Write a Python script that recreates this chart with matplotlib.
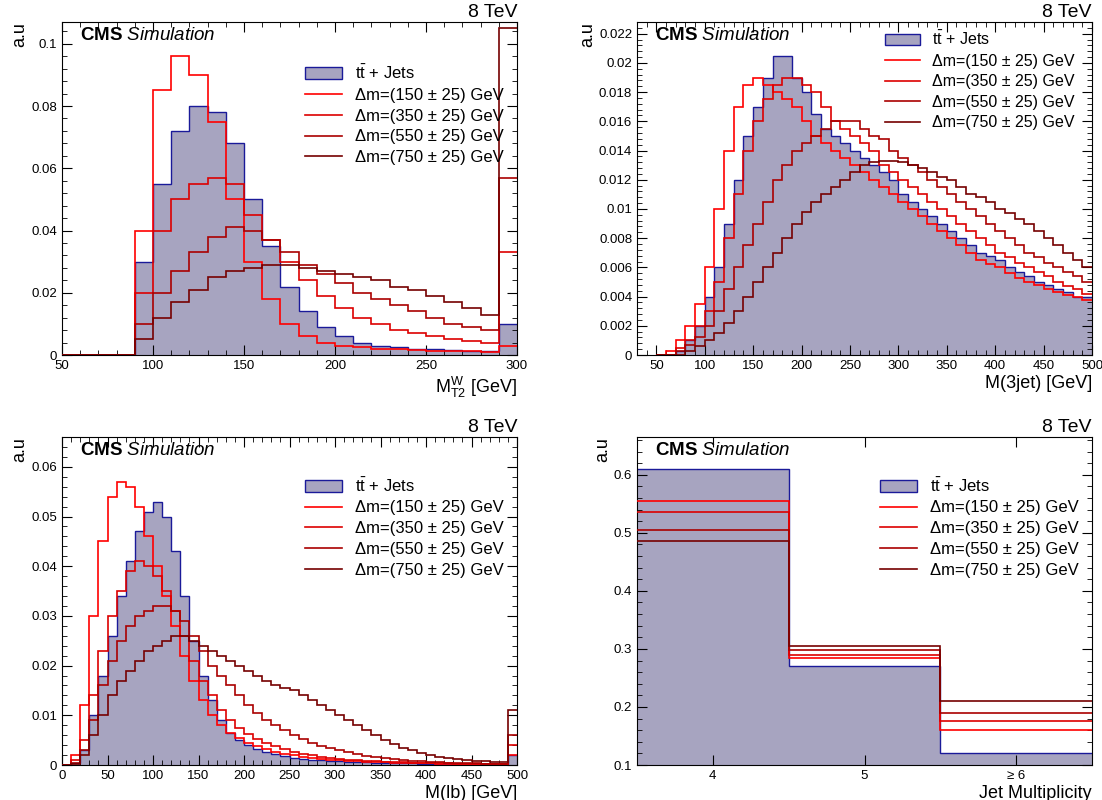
import numpy as np
import matplotlib.pyplot as plt
import matplotlib.patches as mpatches
from matplotlib.lines import Line2D
from matplotlib.ticker import MultipleLocator, AutoMinorLocator, FuncFormatter

plt.rcParams['font.family'] = ['Liberation Sans', 'DejaVu Sans']
plt.rcParams['mathtext.fontset'] = 'custom'
plt.rcParams['mathtext.rm'] = 'Liberation Sans'
plt.rcParams['mathtext.it'] = 'Liberation Sans:italic'
plt.rcParams['mathtext.bf'] = 'Liberation Sans:bold'

labels = [r'$\mathrm{t\bar{t}}$ + Jets', u'\u0394m=(150 \u00b1 25) GeV', u'\u0394m=(350 \u00b1 25) GeV',
          u'\u0394m=(550 \u00b1 25) GeV', u'\u0394m=(750 \u00b1 25) GeV']
line_colors = ['#ff0000', '#dd0000', '#aa0000', '#760000']

# MT2W, 50-300, 10 GeV bins
mt2w_edges = np.arange(50, 301, 10)
mt2w_tt = [0, 0, 0, 0, 0.03, 0.055, 0.072, 0.08, 0.078, 0.068, 0.05, 0.035, 0.022, 0.014, 0.009, 0.006,
           0.004, 0.003, 0.0025, 0.002, 0.0018, 0.0015, 0.0013, 0.0012, 0.01]
mt2w_s150 = [0, 0, 0, 0, 0.04, 0.085, 0.096, 0.09, 0.075, 0.05, 0.03, 0.018, 0.01, 0.006, 0.004, 0.003,
             0.0025, 0.002, 0.0018, 0.0016, 0.0014, 0.0013, 0.0012, 0.0011, 0.003]
mt2w_s350 = [0, 0, 0, 0, 0.02, 0.04, 0.05, 0.055, 0.057, 0.055, 0.045, 0.037, 0.03, 0.024, 0.019, 0.015,
             0.012, 0.01, 0.008, 0.007, 0.006, 0.005, 0.0045, 0.004, 0.033]
mt2w_s550 = [0, 0, 0, 0, 0.01, 0.02, 0.027, 0.033, 0.038, 0.041, 0.04, 0.037, 0.033, 0.029, 0.026, 0.023,
             0.02, 0.018, 0.016, 0.014, 0.012, 0.01, 0.009, 0.008, 0.057]
mt2w_s750 = [0, 0, 0, 0, 0.005, 0.012, 0.017, 0.021, 0.025, 0.027, 0.028, 0.029, 0.029, 0.028, 0.027, 0.026,
             0.025, 0.024, 0.022, 0.021, 0.019, 0.017, 0.015, 0.013, 0.105]

# M(3jet), 50-500, 10 GeV bins
m3j_edges = np.arange(50, 501, 10)
m3j_tt = [0, 0, 0.0003, 0.001, 0.002, 0.004, 0.006, 0.009, 0.012, 0.015, 0.017, 0.019, 0.0205, 0.0205, 0.019,
          0.018, 0.0165, 0.0155, 0.015, 0.0145, 0.014, 0.0135, 0.013, 0.0125, 0.012, 0.011, 0.0105, 0.01, 0.0095,
          0.009, 0.0085, 0.008, 0.0075, 0.007, 0.0068, 0.0065, 0.006, 0.0057, 0.0054, 0.005, 0.0048, 0.0045,
          0.0043, 0.004, 0.004]
m3j_s150 = [0, 0.0003, 0.001, 0.002, 0.0035, 0.006, 0.01, 0.014, 0.017, 0.0185, 0.019, 0.0185, 0.018, 0.0175,
            0.017, 0.016, 0.015, 0.0145, 0.014, 0.0135, 0.013, 0.0125, 0.012, 0.0115, 0.011, 0.0105, 0.01, 0.0095,
            0.009, 0.0085, 0.008, 0.0075, 0.007, 0.0065, 0.0062, 0.006, 0.0056, 0.0053, 0.005, 0.0048, 0.0045,
            0.0043, 0.0041, 0.004, 0.0038]
m3j_s350 = [0, 0, 0.0005, 0.001, 0.002, 0.003, 0.005, 0.008, 0.011, 0.014, 0.016, 0.0175, 0.0185, 0.019, 0.019,
            0.0185, 0.018, 0.017, 0.016, 0.0155, 0.015, 0.0145, 0.014, 0.013, 0.0125, 0.012, 0.0115, 0.011, 0.0105,
            0.01, 0.0095, 0.009, 0.0085, 0.008, 0.0075, 0.007, 0.0067, 0.0063, 0.006, 0.0057, 0.0054, 0.005,
            0.0047, 0.0045, 0.0042]
m3j_s550 = [0, 0, 0.0003, 0.0007, 0.0012, 0.002, 0.003, 0.0045, 0.006, 0.0075, 0.009, 0.0105, 0.012, 0.013,
            0.014, 0.0145, 0.015, 0.0155, 0.016, 0.016, 0.016, 0.0155, 0.015, 0.0148, 0.014, 0.0135, 0.013, 0.0125,
            0.012, 0.0115, 0.011, 0.0105, 0.01, 0.0095, 0.009, 0.0085, 0.008, 0.0075, 0.007, 0.0067, 0.0063, 0.006,
            0.0057, 0.0054, 0.005]
m3j_s750 = [0, 0, 0, 0.0003, 0.0006, 0.001, 0.0015, 0.0022, 0.003, 0.004, 0.005, 0.006, 0.007, 0.008, 0.009,
            0.0098, 0.0105, 0.011, 0.0115, 0.012, 0.0125, 0.013, 0.0132, 0.0133, 0.0133, 0.0132, 0.013, 0.0128,
            0.0125, 0.0122, 0.012, 0.0115, 0.011, 0.0108, 0.0105, 0.01, 0.0097, 0.0093, 0.009, 0.0085, 0.008,
            0.0075, 0.007, 0.0065, 0.006]

# M(lb), 0-500, 10 GeV bins
mlb_edges = np.arange(0, 501, 10)
mlb_tt = [0, 0.0005, 0.003, 0.01, 0.018, 0.026, 0.034, 0.041, 0.047, 0.051, 0.053, 0.05, 0.043, 0.034, 0.025,
          0.018, 0.013, 0.009, 0.0065, 0.005, 0.004, 0.0032, 0.0026, 0.0022, 0.0018, 0.0015, 0.0013, 0.0011, 0.001,
          0.0009, 0.0008, 0.0007, 0.0006, 0.0006, 0.0005, 0.0005, 0.0004, 0.0004, 0.0004, 0.0003, 0.0003, 0.0003,
          0.0003, 0.0003, 0.0002, 0.0002, 0.0002, 0.0002, 0.0002, 0.002]
mlb_s150 = [0, 0.002, 0.012, 0.03, 0.045, 0.054, 0.057, 0.056, 0.052, 0.046, 0.04, 0.034, 0.028, 0.022, 0.017,
            0.013, 0.01, 0.008, 0.0065, 0.0055, 0.0045, 0.0038, 0.0032, 0.0027, 0.0023, 0.002, 0.0017, 0.0015,
            0.0013, 0.0011, 0.001, 0.0009, 0.0008, 0.0007, 0.0006, 0.0006, 0.0005, 0.0005, 0.0004, 0.0004, 0.0004,
            0.0003, 0.0003, 0.0003, 0.0003, 0.0003, 0.0002, 0.0002, 0.0002, 0.002]
mlb_s350 = [0, 0.001, 0.005, 0.014, 0.023, 0.03, 0.035, 0.039, 0.041, 0.04, 0.038, 0.035, 0.031, 0.026, 0.021,
            0.017, 0.014, 0.011, 0.009, 0.0075, 0.0062, 0.0052, 0.0044, 0.0038, 0.0032, 0.0027, 0.0023, 0.002,
            0.0017, 0.0015, 0.0013, 0.0011, 0.001, 0.0009, 0.0008, 0.0007, 0.0006, 0.0006, 0.0005, 0.0005, 0.0004,
            0.0004, 0.0004, 0.0003, 0.0003, 0.0003, 0.0003, 0.0002, 0.0002, 0.004]
mlb_s550 = [0, 0.0005, 0.003, 0.009, 0.016, 0.021, 0.025, 0.028, 0.03, 0.031, 0.032, 0.032, 0.031, 0.029, 0.026,
            0.023, 0.02, 0.018, 0.016, 0.014, 0.012, 0.0105, 0.009, 0.008, 0.007, 0.006, 0.0052, 0.0045, 0.0039,
            0.0034, 0.003, 0.0026, 0.0022, 0.0019, 0.0016, 0.0014, 0.0012, 0.001, 0.0009, 0.0008, 0.0007, 0.0006,
            0.0005, 0.0005, 0.0004, 0.0004, 0.0003, 0.0003, 0.0003, 0.006]
mlb_s750 = [0, 0.0003, 0.002, 0.006, 0.01, 0.014, 0.017, 0.019, 0.021, 0.023, 0.024, 0.025, 0.026, 0.026, 0.025,
            0.024, 0.023, 0.022, 0.021, 0.02, 0.019, 0.018, 0.017, 0.016, 0.0155, 0.015, 0.014, 0.013, 0.012, 0.011,
            0.01, 0.009, 0.008, 0.007, 0.006, 0.005, 0.0042, 0.0035, 0.003, 0.0025, 0.002, 0.0017, 0.0014, 0.0012,
            0.001, 0.0009, 0.0008, 0.0007, 0.0006, 0.011]

# jet multiplicity
nj_labels = ['4', '5', u'\u2265 6']
nj_tt = [0.61, 0.27, 0.12]
nj_s150 = [0.555, 0.285, 0.16]
nj_s350 = [0.535, 0.29, 0.175]
nj_s550 = [0.505, 0.298, 0.19]
nj_s750 = [0.485, 0.305, 0.21]

fig = plt.figure(figsize=(11.02, 8.0), dpi=100)
W, H = 1102., 800.
boxes = [(62, 22, 517, 355), (637, 22, 1092, 355), (62, 437, 517, 765), (637, 437, 1092, 765)]
axs = [fig.add_axes([x0/W, 1-y1/H, (x1-x0)/W, (y1-y0)/H]) for (x0, y0, x1, y1) in boxes]

panels = [
    (mt2w_edges, [mt2w_tt, mt2w_s150, mt2w_s350, mt2w_s550, mt2w_s750], (50, 300), (0, 0.107), 0.02, 50,
     r'$\mathrm{M}_{\mathrm{T2}}^{\mathrm{W}}$ [GeV]'),
    (m3j_edges, [m3j_tt, m3j_s150, m3j_s350, m3j_s550, m3j_s750], (30, 500), (0, 0.0228), 0.002, 50,
     'M(3jet) [GeV]'),
    (mlb_edges, [mlb_tt, mlb_s150, mlb_s350, mlb_s550, mlb_s750], (0, 500), (0, 0.066), 0.01, 50,
     'M(lb) [GeV]'),
    (np.arange(4), [nj_tt, nj_s150, nj_s350, nj_s550, nj_s750], (0, 3), (0.1, 0.665), 0.1, None,
     'Jet Multiplicity'),
]

fmt = FuncFormatter(lambda v, p: '%g' % round(v, 6))

for i, (ax, (edges, series, xl, yl, ymaj, xmaj, xlab)) in enumerate(zip(axs, panels)):
    ax.stairs(series[0], edges, fill=True, color='#a7a4c0', zorder=1)
    ax.stairs(series[0], edges, color='#1a1a99', lw=1.0, zorder=2, baseline=None)
    for s, c in zip(series[1:], line_colors):
        ax.stairs(s, edges, color=c, lw=1.2, zorder=3, baseline=None)
    ax.set_xlim(*xl)
    ax.set_ylim(*yl)
    ax.yaxis.set_major_locator(MultipleLocator(ymaj))
    ax.yaxis.set_minor_locator(AutoMinorLocator(5))
    ax.yaxis.set_major_formatter(fmt)
    if xmaj:
        ax.xaxis.set_major_locator(MultipleLocator(xmaj))
        ax.xaxis.set_minor_locator(AutoMinorLocator(5))
    else:
        ax.set_xticks([0.5, 1.5, 2.5])
        ax.set_xticklabels(nj_labels, fontsize=8)
        ax.tick_params(axis='x', length=0)
    ax.tick_params(which='both', direction='in', top=True, right=True, labelsize=9.5)
    ax.tick_params(which='major', length=7)
    ax.tick_params(which='minor', length=3.5)
    ax.set_xlabel(xlab, fontsize=13, loc='right', labelpad=2)
    ax.set_ylabel('a.u', fontsize=13, loc='top', labelpad=2)
    ax.text(1.0, 1.003, '8 TeV', transform=ax.transAxes, ha='right', va='bottom', fontsize=14)
    ax.text(0.04, 0.985, r'$\mathbf{CMS}$ $\mathit{Simulation}$', transform=ax.transAxes,
            ha='left', va='top', fontsize=13.5)
    handles = [mpatches.Patch(facecolor='#a7a4c0', edgecolor='#1a1a99')] + \
              [Line2D([], [], color=c, lw=1.2) for c in line_colors]
    if i == 1:
        loc, fs = (0.53, 0.655), 11.5
    else:
        loc, fs = (0.52, 0.55), 12
    leg = ax.legend(handles, labels, loc='lower left', bbox_to_anchor=loc, frameon=False,
                    fontsize=fs, handlelength=2.2, labelspacing=0.35, borderaxespad=0)
    leg.set_zorder(5)

fig.savefig('out.png', dpi=100)
